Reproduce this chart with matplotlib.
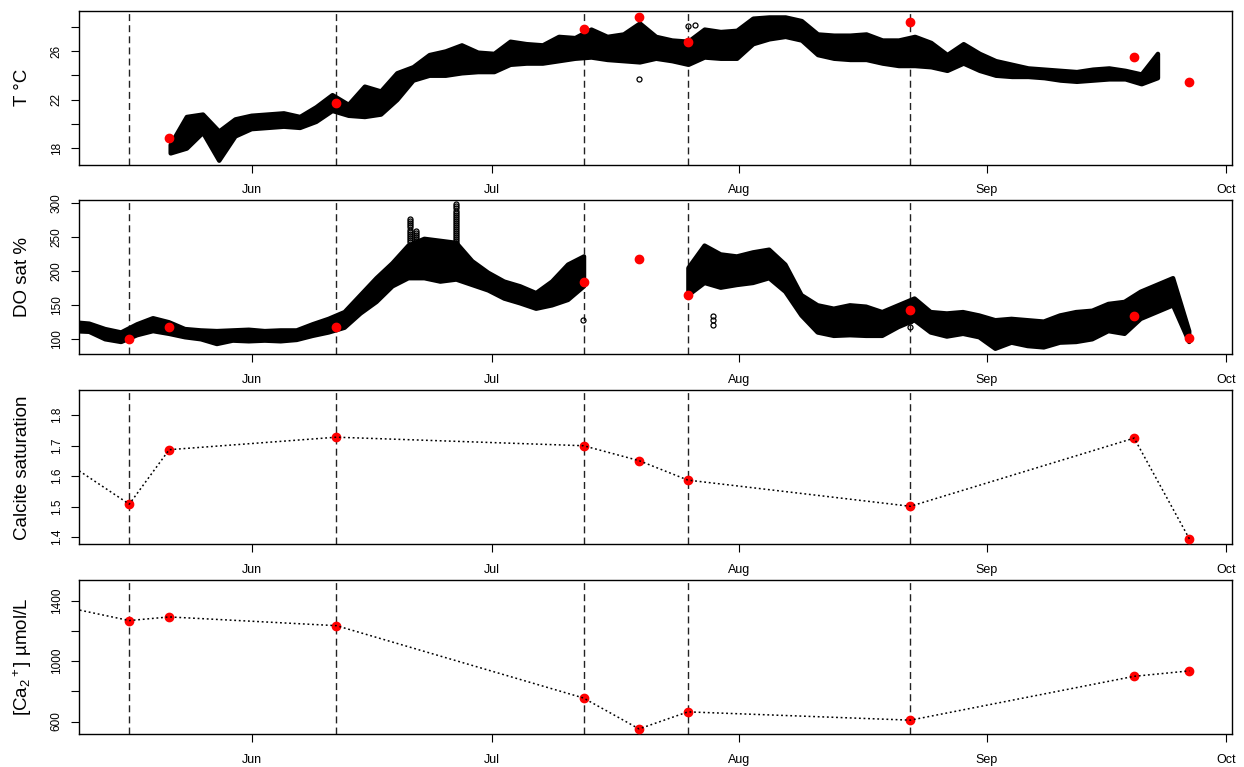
import numpy as np
import pandas as pd
import matplotlib
matplotlib.use("Agg")
import matplotlib.pyplot as plt
import matplotlib.dates as mdates

plt.rcParams["font.family"] = ["Liberation Sans", "DejaVu Sans"]
plt.rcParams["mathtext.fontset"] = "custom"
plt.rcParams["mathtext.rm"] = "Liberation Sans"
plt.rcParams["mathtext.it"] = "Liberation Sans:italic"

nan = np.nan

# --- lab samples (first one lies left of the plotted window) ---
sample_dates = pd.to_datetime(["2015-04-26 05:00", "2015-05-16 14:00", "2015-05-21 14:00",
                               "2015-06-11 13:00", "2015-07-12 12:00", "2015-07-19 11:00",
                               "2015-07-25 14:00", "2015-08-22 11:00", "2015-09-19 12:00",
                               "2015-09-26 10:00"])
temp_lab = [nan, nan, 18.82, 21.73, 27.81, 28.83, 26.71, 28.39, 25.50, 23.47]
do_lab = [nan, 100.0, 116.6, 117.6, 183.4, 218.0, 164.0, 142.4, 133.7, 101.5]
calcite = [1.863, 1.508, 1.687, 1.728, 1.700, 1.651, 1.587, 1.501, 1.725, 1.394]
ca = [1497, 1270, 1294, 1236, 756, 551, 664, 609, 900, 936]

event_dates = pd.to_datetime(["2015-05-16 14:00", "2015-06-11 13:00", "2015-07-12 12:00",
                              "2015-07-25 14:00", "2015-08-22 11:00"])

# --- logger: temperature, daily low / high read every ~2 days ---
temp_span = ("2015-05-21 17:00", "2015-09-22 10:00")
temp_lo = [17.6, 18.0, 19.3, 17.0, 19.0, 19.6, 19.7, 19.8, 19.7, 20.2, 21.1, 20.7, 20.6, 20.8,
           22.0, 23.6, 24.0, 24.0, 24.2, 24.3, 24.3, 24.9, 25.0, 25.0, 25.2, 25.4, 25.5, 25.3,
           25.2, 25.1, 25.4, 25.2, 24.9, 25.5, 25.4, 25.4, 26.6, 27.0, 27.2, 26.9, 25.7, 25.4,
           25.3, 25.3, 25.0, 24.8, 24.8, 24.7, 24.4, 25.0, 24.4, 24.0, 23.9, 23.9, 23.8, 23.6,
           23.5, 23.6, 23.7, 23.7, 23.3, 23.8]
temp_hi = [18.3, 20.6, 20.8, 19.4, 20.4, 20.7, 20.8, 20.9, 20.6, 21.4, 22.4, 21.6, 23.1, 22.7,
           24.2, 24.7, 25.7, 26.0, 26.5, 25.9, 25.8, 26.8, 26.6, 26.5, 27.2, 27.1, 27.8, 27.2,
           27.4, 28.3, 27.2, 26.9, 26.8, 27.8, 27.6, 27.7, 28.7, 28.8, 28.8, 28.5, 27.4, 27.3,
           27.3, 27.4, 26.9, 26.9, 27.2, 26.7, 25.7, 26.6, 25.8, 25.2, 24.9, 24.6, 24.5, 24.4,
           24.3, 24.5, 24.6, 24.4, 24.1, 25.8]
temp_out_dates = pd.to_datetime(["2015-07-19 12:00", "2015-07-25 14:00", "2015-07-26 10:00"])
temp_out = [23.65, 28.05, 28.1]

# --- logger: DO saturation, two runs with a gap ---
do1_span = ("2015-05-09 12:00", "2015-07-12 12:00")
do1_lo = [112, 111, 100, 96, 106, 112, 108, 103, 100, 93, 98, 97, 98, 97, 99, 105, 110, 117,
          138, 155, 178, 190, 190, 185, 188, 180, 172, 160, 153, 145, 150, 158, 178]
do1_hi = [125, 123, 115, 110, 122, 131, 125, 115, 113, 112, 113, 114, 112, 113, 113, 122, 130,
          140, 165, 190, 212, 238, 248, 245, 242, 215, 198, 185, 178, 168, 185, 210, 222]
do2_span = ("2015-07-25 14:00", "2015-09-26 08:00")
do2_lo = [165, 183, 176, 180, 183, 190, 170, 135, 110, 105, 106, 105, 105, 118, 128, 110, 104,
          108, 103, 86, 95, 90, 88, 95, 96, 100, 112, 108, 130, 140, 150, 96]
do2_hi = [205, 238, 225, 222, 228, 232, 210, 165, 150, 145, 150, 148, 140, 150, 160, 140, 138,
          140, 135, 128, 130, 128, 126, 135, 140, 142, 152, 155, 170, 180, 190, 112]
do_out_dates = pd.to_datetime(["2015-06-20 17:00"] * 12 + ["2015-06-21 12:00"] * 7
                              + ["2015-06-26 14:00"] * 20
                              + ["2015-07-12 10:00", "2015-07-28 17:00", "2015-07-28 17:00",
                                 "2015-07-28 17:00", "2015-08-22 11:00", "2015-08-22 11:00"])
do_out = [276, 273, 270, 267, 264, 261, 258, 255, 252, 249, 246, 243,
          259, 256, 253, 250, 247, 244, 241,
          298, 295, 292, 289, 286, 283, 280, 277, 274, 271, 268, 265, 262, 259, 256, 253, 250,
          247, 244, 241,
          128, 120, 127, 134, 118, 126]

xlim = (pd.Timestamp("2015-05-10 06:00"), pd.Timestamp("2015-10-01 18:00"))


def band(ax, span, lo, hi):
    t = pd.date_range(span[0], span[1], periods=len(lo))
    ax.fill_between(t, lo, hi, color="k", ec="k", lw=3.2, zorder=2)


def style(ax, ylabel, yticks, ylabels, ylim):
    ax.set_xlim(*xlim)
    ax.set_ylim(*ylim)
    ax.xaxis.set_major_locator(mdates.MonthLocator())
    ax.xaxis.set_major_formatter(mdates.DateFormatter("%b"))
    ax.set_yticks(yticks)
    ax.set_yticklabels(ylabels, rotation=90, va="center")
    ax.tick_params(axis="x", length=5.5, width=0.8, labelsize=9, pad=8.4)
    ax.tick_params(axis="y", length=5.5, width=0.8, labelsize=8.5, pad=6)
    for s in ax.spines.values():
        s.set_linewidth(1.0)
    for d in event_dates:
        ax.axvline(d, color="#222", ls=(0, (5, 3)), lw=1.0, zorder=1)
    ax.set_ylabel(ylabel, fontsize=13.5)
    ax.yaxis.set_label_coords(-0.049, 0.5)
    ax.yaxis.label.set_verticalalignment("center")


fig = plt.figure(figsize=(12.44, 7.67), dpi=100)
L, W, H = 0.0633, 0.927, 0.2008
bottoms = [0.7853, 0.538, 0.2903, 0.0426]
axs = [fig.add_axes([L, b, W, H]) for b in bottoms]

# temperature
ax = axs[0]
band(ax, temp_span, temp_lo, temp_hi)
ax.plot(temp_out_dates, temp_out, "o", mfc="none", mec="k", ms=3.6, mew=0.9, zorder=3)
ax.plot(sample_dates, temp_lab, "o", color="red", ms=6, zorder=5)
style(ax, "T °C", [18, 20, 22, 24, 26, 28], ["18", "", "22", "", "26", ""], (16.63, 29.32))

# DO saturation
ax = axs[1]
band(ax, do1_span, do1_lo, do1_hi)
band(ax, do2_span, do2_lo, do2_hi)
ax.plot(do_out_dates, do_out, "o", mfc="none", mec="k", ms=3.6, mew=0.9, zorder=3)
ax.plot(sample_dates, do_lab, "o", color="red", ms=6, zorder=5)
style(ax, "DO sat %", [100, 150, 200, 250, 300], ["100", "150", "200", "250", "300"], (77, 304))

# calcite saturation
ax = axs[2]
ax.plot(sample_dates, calcite, "o", color="red", ms=6, zorder=3)
ax.plot(sample_dates, calcite, color="k", ls=(0, (1.2, 1.8)), lw=1.1, zorder=4)
style(ax, "Calcite saturation", [1.4, 1.5, 1.6, 1.7, 1.8], ["1.4", "1.5", "1.6", "1.7", "1.8"],
      (1.376, 1.882))

# calcium
ax = axs[3]
ax.plot(sample_dates, ca, "o", color="red", ms=6, zorder=3)
ax.plot(sample_dates, ca, color="k", ls=(0, (1.2, 1.8)), lw=1.1, zorder=4)
style(ax, "[Ca$_2$$^+$] µmol/L", [600, 800, 1000, 1200, 1400], ["600", "", "1000", "", "1400"],
      (515, 1537))

fig.savefig("out.png", dpi=100)
